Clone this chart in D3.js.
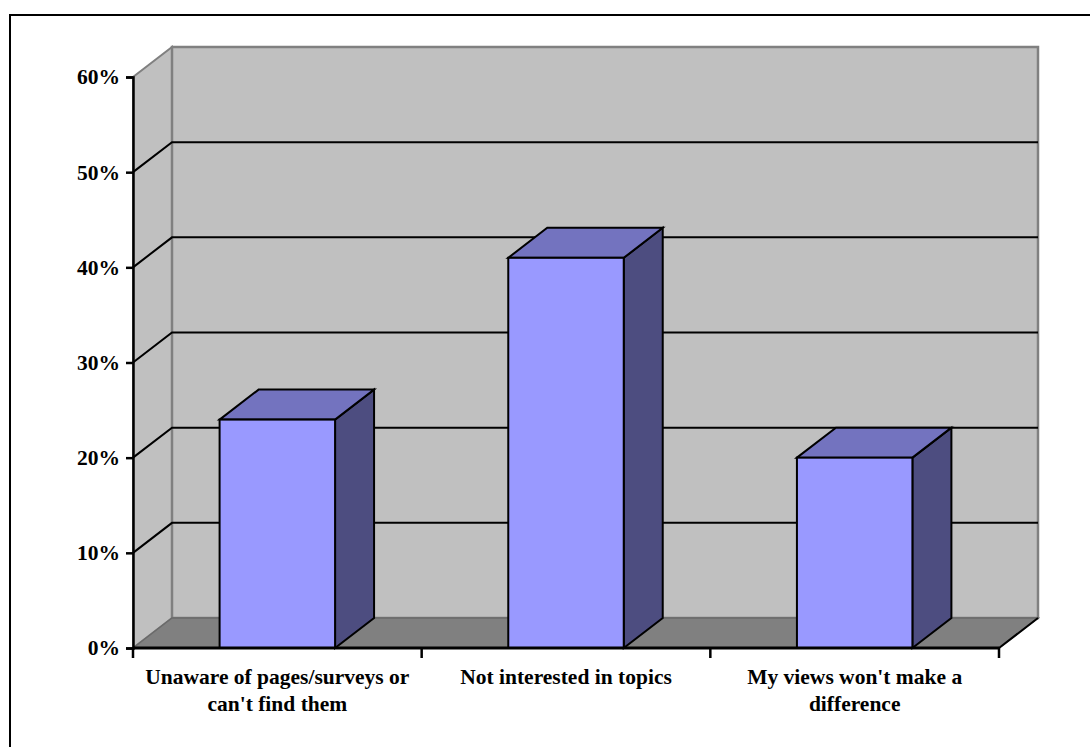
<!DOCTYPE html>
<html>
<head>
<meta charset="utf-8">
<script src="https://cdn.jsdelivr.net/npm/d3@7"></script>
<style>
  html, body { margin: 0; padding: 0; background: #fff; }
  svg text { font-family: "Liberation Serif", "Times New Roman", serif; font-weight: bold; fill: #000; }
</style>
</head>
<body>
<svg id="chart" width="1090" height="747"></svg>
<script>
// Reasons for not taking part
const categories = [
  "Unaware of pages/surveys or can't find them",
  "Not interested in topics",
  "My views won't make a difference"
];
const shares = [0.24, 0.41, 0.20];
const tickValues = [0, 0.1, 0.2, 0.3, 0.4, 0.5, 0.6];

const fontSize = 21.5;
const svg = d3.select("#chart");

// outer frame
svg.append("rect")
  .attr("x", 10).attr("y", 15)
  .attr("width", 1100).attr("height", 760)
  .attr("fill", "none").attr("stroke", "#000").attr("stroke-width", 2);

// plot geometry (front plane) and 3-D depth offset
const plotLeft = 133, plotRight = 999, plotBottom = 648, plotTop = 77;
const dx = 39, dy = -30;

const x = d3.scaleBand().domain(categories).range([plotLeft, plotRight])
  .paddingInner(0.6).paddingOuter(0.3);
const y = d3.scaleLinear().domain([0, 0.6]).range([plotBottom, plotTop]);

const wall = "#C0C0C0", floor = "#808080", edge = "#808080";
const pts = a => a.map(p => p.join(",")).join(" ");

// side wall
svg.append("polygon")
  .attr("points", pts([[plotLeft, y(0.6)], [plotLeft + dx, y(0.6) + dy], [plotLeft + dx, y(0) + dy], [plotLeft, y(0)]]))
  .attr("fill", wall).attr("stroke", edge).attr("stroke-width", 2);

// back wall
svg.append("rect")
  .attr("x", plotLeft + dx).attr("y", y(0.6) + dy)
  .attr("width", plotRight - plotLeft).attr("height", y(0) - y(0.6))
  .attr("fill", wall).attr("stroke", edge).attr("stroke-width", 2.5);

// gridlines across side and back walls
const grid = tickValues.filter(v => v > 0 && v < 0.6);
const g = svg.append("g").attr("stroke", "#000").attr("stroke-width", 2).attr("fill", "none");
grid.forEach(v => {
  g.append("polyline")
    .attr("points", pts([[plotLeft, y(v)], [plotLeft + dx, y(v) + dy], [plotRight + dx, y(v) + dy]]));
});

// floor
svg.append("polygon")
  .attr("points", pts([[plotLeft, y(0)], [plotLeft + dx, y(0) + dy], [plotRight + dx, y(0) + dy], [plotRight, y(0)]]))
  .attr("fill", floor).attr("stroke", "#6a6a6a").attr("stroke-width", 1.5);
svg.append("line")
  .attr("x1", plotRight).attr("y1", y(0)).attr("x2", plotRight + dx).attr("y2", y(0) + dy)
  .attr("stroke", "#000").attr("stroke-width", 2);

// 3-D columns
const bars = svg.append("g").attr("stroke", "#000").attr("stroke-width", 2).attr("stroke-linejoin", "miter");
categories.forEach((c, i) => {
  const x0 = x(c), x1 = x(c) + x.bandwidth();
  const yt = y(shares[i]), yb = y(0);
  // side face
  bars.append("polygon")
    .attr("points", pts([[x1, yt], [x1 + dx, yt + dy], [x1 + dx, yb + dy], [x1, yb]]))
    .attr("fill", "#4D4D80");
  // top face
  bars.append("polygon")
    .attr("points", pts([[x0, yt], [x0 + dx, yt + dy], [x1 + dx, yt + dy], [x1, yt]]))
    .attr("fill", "#7373BF");
  // front face
  bars.append("rect")
    .attr("x", x0).attr("y", yt)
    .attr("width", x1 - x0).attr("height", yb - yt)
    .attr("fill", "#9999FF");
});

// value axis
const yAxis = svg.append("g")
  .attr("transform", `translate(${plotLeft},0)`)
  .call(d3.axisLeft(y).tickValues(tickValues).tickFormat(d3.format(".0%")).tickSize(7).tickPadding(6));
yAxis.select(".domain").attr("stroke", "#000").attr("stroke-width", 2.5);
yAxis.selectAll(".tick line").attr("stroke", "#000").attr("stroke-width", 2.5);
yAxis.selectAll("text").style("font-size", fontSize + "px").style("font-family", "'Liberation Serif', serif").style("font-weight", "bold");

// category axis with ticks between categories
const step = x.step();
const bounds = categories.map(c => x(c) - step * x.paddingInner() / 2);
bounds.push(plotRight);
const xAxis = svg.append("g");
xAxis.append("line")
  .attr("x1", plotLeft).attr("x2", plotRight).attr("y1", plotBottom).attr("y2", plotBottom)
  .attr("stroke", "#000").attr("stroke-width", 3);
xAxis.selectAll("line.tick").data(bounds).join("line")
  .attr("class", "tick")
  .attr("x1", d => d).attr("x2", d => d)
  .attr("y1", plotBottom).attr("y2", plotBottom + 10)
  .attr("stroke", "#000").attr("stroke-width", 2.5);

// wrapped category labels
function wrapWords(text, width, size) {
  const words = text.split(" ");
  const lines = [];
  let line = [];
  const probe = svg.append("text").style("font-size", size + "px");
  words.forEach(w => {
    const trial = line.concat(w).join(" ");
    probe.text(trial);
    if (probe.node().getComputedTextLength() > width && line.length) {
      lines.push(line.join(" "));
      line = [w];
    } else {
      line.push(w);
    }
  });
  lines.push(line.join(" "));
  probe.remove();
  return lines;
}

categories.forEach(c => {
  const lines = wrapWords(c, 285, fontSize);
  const t = svg.append("text")
    .attr("text-anchor", "middle")
    .style("font-size", fontSize + "px")
    .attr("x", x(c) + x.bandwidth() / 2)
    .attr("y", 684);
  lines.forEach((l, k) => {
    t.append("tspan")
      .attr("x", x(c) + x.bandwidth() / 2)
      .attr("dy", k === 0 ? 0 : 27)
      .text(l);
  });
});
</script>
</body>
</html>
